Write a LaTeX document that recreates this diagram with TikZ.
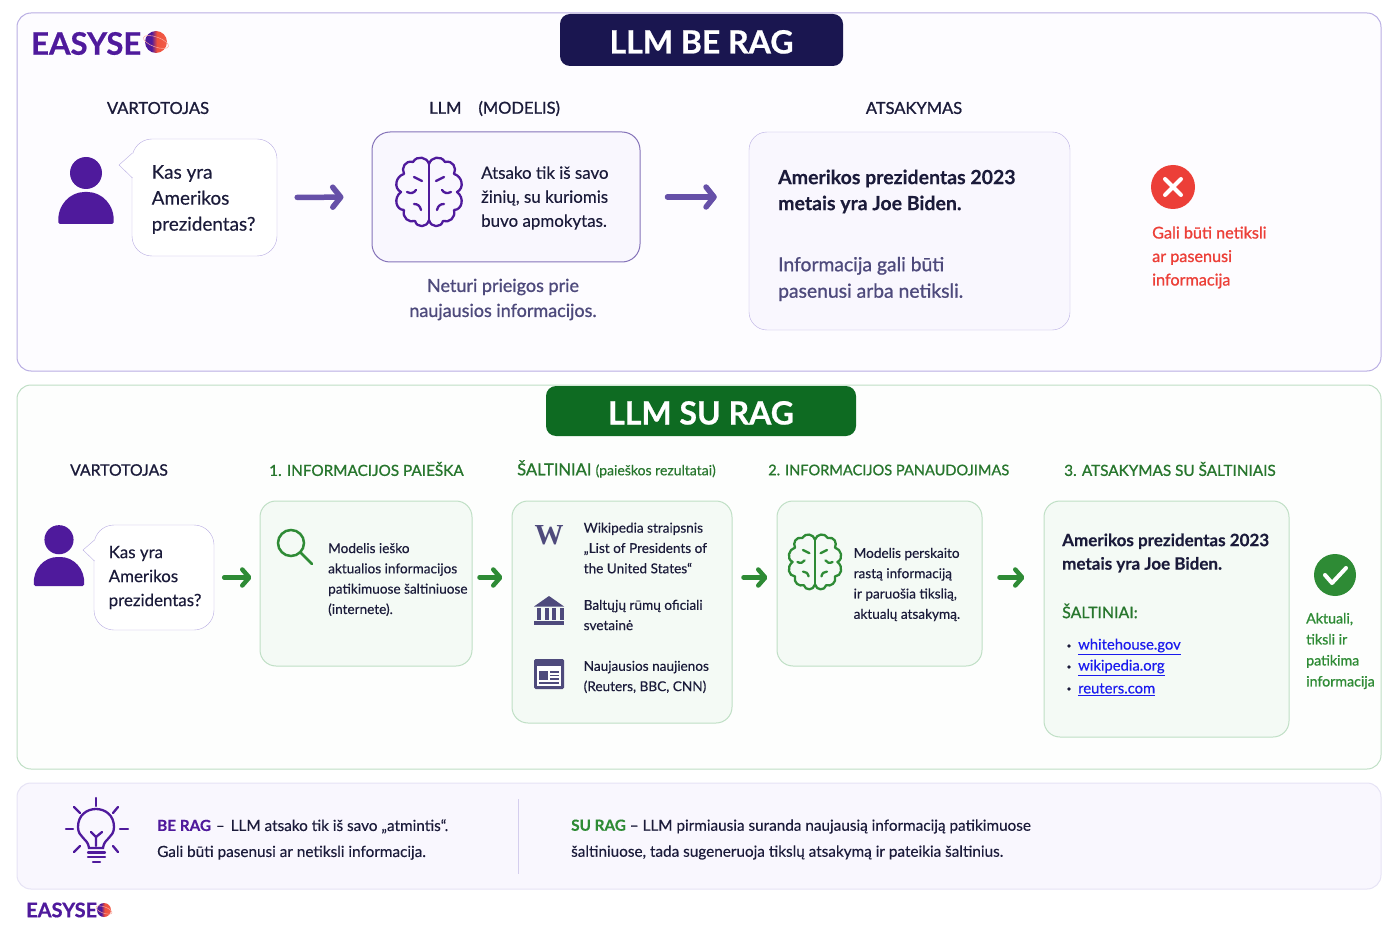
\documentclass[tikz,border=0pt]{standalone}
\usepackage{fontspec}
\setmainfont[UprightFeatures={FakeBold=0.3}, BoldFeatures={FakeBold=0.3}]{Lato}
\newfontfamily\medfont[FakeBold=1]{Lato}
\newfontfamily\blackfont[BoldFeatures={FakeBold=0.7}]{Lato}
\newfontfamily\wfont{Liberation Serif}
\usetikzlibrary{arrows.meta, positioning}
\definecolor{brandp}{HTML}{4F1A9C}
\definecolor{brandg}{HTML}{2E8B35}
\definecolor{edgep}{HTML}{B9AEE3}
\definecolor{edgeg}{HTML}{BFDFC5}
\definecolor{softp}{HTML}{F9F7FE}
\definecolor{softg}{HTML}{F4FAF5}
\definecolor{inkd}{HTML}{1B1B3A}
\definecolor{inkm}{HTML}{4E4A7C}
\definecolor{ballred}{HTML}{F0503C}
\definecolor{redt}{HTML}{EC3F38}
\definecolor{arrowp}{HTML}{6650A8}
\definecolor{linkb}{HTML}{1A1AEE}
\definecolor{navyb}{HTML}{1A1650}
\definecolor{greenb}{HTML}{0E6B22}
\pgfdeclarehorizontalshading{ballshade}{100bp}{color(0bp)=(brandp); color(40bp)=(brandp); color(52bp)=(ballred); color(100bp)=(ballred!85)}
\newcommand{\fs}[2]{\fontsize{#1}{#2}\selectfont}
% Brain outline, one half and its mirror
\newcommand{\brainhalf}{
    \draw[line cap=round, line join=round] (0,-28) .. controls (-2,-35) and (-12,-37) .. (-16,-30)
        .. controls (-24,-32) and (-28,-24) .. (-25,-18)
        .. controls (-33,-16) and (-36,-4) .. (-28,0)
        .. controls (-36,6) and (-33,18) .. (-25,18)
        .. controls (-27,26) and (-20,31) .. (-14,29)
        .. controls (-12,36) and (-2,36) .. (0,28);
    \draw[line cap=round] (-15,-15) -- (-7,-11);
    \draw[line cap=round] (-22,0) .. controls (-18,2) and (-15,1) .. (-13,-2);
    \draw[line cap=round] (-15,12) .. controls (-11,12) and (-9,14) .. (-8,18);
}
\newcommand{\brainicon}[4]{
    \begin{scope}[shift={(#1,#2)}, scale=#3, color=#4, line width=2.3pt]
        \brainhalf
        \begin{scope}[xscale=-1]
            \brainhalf
        \end{scope}
        \draw (0,-28) -- (0,28);
    \end{scope}
}
% User figure
\newcommand{\usericon}[3]{
    \begin{scope}[shift={(#1,#2)}, scale=#3]
        \fill[brandp] (0,-19) circle[radius=16];
        \fill[brandp, rounded corners=1.5pt] (-27.5,32) .. controls (-29,13) and (-16,0) .. (0,0)
            .. controls (16,0) and (29,13) .. (27.5,32) -- cycle;
    \end{scope}
}
% Logo ball
\newcommand{\logoball}[3]{
    \shade[shading=ballshade] (#1,#2) circle[radius=#3];
    \draw[ballred!50, line width=0.5pt, rotate around={-20:(#1,#2)}] (#1,#2) ellipse[x radius=#3*1.2, y radius=#3*0.45];
}
\tikzset{
    panelp/.style={draw=edgep, line width=1pt, fill=white!60!softp, rounded corners=14pt, inner sep=0pt},
    panelg/.style={draw=edgeg, line width=1pt, fill=white!80!softg, rounded corners=14pt, inner sep=0pt},
    boxp/.style={draw=edgep, fill=softp, rounded corners=18pt, inner sep=0pt},
    boxg/.style={draw=edgeg, line width=1pt, fill=softg, rounded corners=16pt, inner sep=0pt},
    bubble/.style={draw=edgep, fill=white, rounded corners=20pt, inner sep=0pt},
    badge/.style={rounded corners=10pt, inner sep=0pt, text=white, font=\fs{32}{36}\blackfont\bfseries},
    txt/.style={align=left, anchor=west, inner sep=0pt, text=inkd},
    head/.style={inner sep=0pt, text=inkd, font=\fs{16.5}{20}\medfont},
    headg/.style={anchor=west, inner sep=0pt, text=brandg!85!black, font=\fs{15.3}{20}\medfont},
    flowp/.style={draw=arrowp, line width=5.5pt, line cap=round, -{Straight Barb[round, length=8pt, width=20pt]}},
    flowg/.style={draw=brandg, line width=4.5pt, line cap=round, -{Straight Barb[round, length=7pt, width=16pt]}},
    logotxt/.style={anchor=west, inner sep=0pt, text=brandp},
}
\begin{document}
\begin{tikzpicture}[x=1pt, y=-1pt]
    \useasboundingbox (0,0) rectangle (1400,933);
    \fill[white] (0,0) rectangle (1400,933);

    % Panels
    \node[panelp, minimum width=1364pt, minimum height=358pt] (toppanel) at (699,192) {};
    \node[panelg, minimum width=1364pt, minimum height=384pt] (midpanel) at (699,577) {};
    \node[panelp, draw=edgep!35, fill=softp, minimum width=1364pt, minimum height=106pt] (lowpanel) at (699,836) {};

    % Title badges
    \node[badge, fill=navyb, minimum width=283pt, minimum height=52pt] (topbadge) at (701.5,40) {\raisebox{-13.5pt}[0pt][0pt]{LLM BE RAG}};
    \node[badge, fill=greenb, minimum width=310pt, minimum height=50pt] (midbadge) at (701,411) {\raisebox{-13.5pt}[0pt][0pt]{LLM SU RAG}};

    % Logos
    \node[logotxt, font=\fs{31}{34}\blackfont\bfseries] (toplogo) at (31,43.5) {EASYSE};
    \logoball{156}{42}{11}
    \node[logotxt, font=\fs{20}{24}\blackfont\bfseries] (lowlogo) at (26,910) {EASYSE};
    \logoball{104}{910}{7}

    % Top row labels
    \node[head] (topuser) at (158,108) {VARTOTOJAS};
    \node[head, anchor=west] (toplm) at (429,108.5) {LLM\hspace{17pt}(MODELIS)};
    \node[head] (topans) at (914,108) {ATSAKYMAS};

    % Top row user
    \usericon{86}{192}{1}
    \node[bubble, minimum width=145pt, minimum height=117pt] (topbub) at (204.5,197.5) {};
    \fill[white] (133,153) -- (119,165) -- (133,178) -- cycle;
    \draw[edgep, line join=round] (132.5,153) -- (119,165) -- (132.5,178);
    \node[txt, font=\fs{18.9}{26}] (topq) at (151.5,199.5) {Kas yra\\Amerikos\\prezidentas?};

    % Top row model
    \node[boxp, draw=arrowp!80, line width=1pt, minimum width=268pt, minimum height=130pt] (topmodel) at (506,197) {};
    \brainicon{429}{192}{1}{brandp}
    \node[txt, font=\fs{16.9}{24}] (topmtxt) at (481,198) {Atsako tik iš savo\\žinių, su kuriomis\\buvo apmokytas.};
    \node[align=center, inner sep=0pt, text=inkm, font=\fs{18}{25}\medfont] (topnote) at (503,299.5) {Neturi prieigos prie\\naujausios informacijos.};

    % Top row answer
    \node[boxp, minimum width=321pt, minimum height=198pt] (topanswer) at (909.5,231) {};
    \node[txt, font=\fs{19.5}{26}\bfseries] (topatxt) at (778,191.5) {Amerikos prezidentas 2023\\metais yra Joe Biden.};
    \node[txt, text=inkm, font=\fs{19.3}{26.5}\medfont] (topawarn) at (778,279) {Informacija gali būti\\pasenusi arba netiksli.};

    % Top row arrows
    \draw[flowp, shorten <=20pt, shorten >=28pt] (topbub.east) -- (topmodel.west);
    \draw[flowp, shorten <=27pt, shorten >=32pt] (topmodel.east) -- (topmodel.east -| topanswer.west);

    % Wrong mark
    \node[circle, fill=redt, minimum size=44pt, inner sep=0pt] (wrongdot) at (1173,187) {};
    \draw[white, line width=4pt, line cap=round] (1165,179) -- (1181,195);
    \draw[white, line width=4pt, line cap=round] (1181,179) -- (1165,195);
    \node[txt, text=redt, font=\fs{16.2}{23.5}\medfont] (wrongtxt) at (1152,257.5) {Gali būti netiksli\\ar pasenusi\\informacija};

    % Middle row labels
    \node[head, font=\fs{15.8}{20}\medfont] (miduser) at (119,470) {VARTOTOJAS};
    \node[headg] (midh1) at (269,469) {1. INFORMACIJOS PAIEŠKA};
    \node[headg, font=\fs{16.5}{20}\medfont] (midh2) at (517,469) {ŠALTINIAI \fs{14}{20}\normalfont\color{brandg!85!black}(paieškos rezultatai)};
    \node[headg, font=\fs{14.6}{20}\medfont] (midh3) at (768,470) {2. INFORMACIJOS PANAUDOJIMAS};
    \node[headg] (midh4) at (1064,469) {3. ATSAKYMAS SU ŠALTINIAIS};

    % Middle row user
    \usericon{59}{557}{0.91}
    \node[bubble, minimum width=120pt, minimum height=105pt] (midbub) at (154,577.5) {};
    \fill[white] (95,540) -- (83,550) -- (95,561) -- cycle;
    \draw[edgep, line join=round] (94.5,540) -- (83,550) -- (94.5,561);
    \node[txt, font=\fs{16.9}{24}] (midq) at (108.5,577.5) {Kas yra\\Amerikos\\prezidentas?};

    % Step 1
    \node[boxg, minimum width=212pt, minimum height=165pt] (srchbox) at (366,583.5) {};
    \draw[brandg, line width=2.5pt] (291,543) circle[radius=13];
    \draw[brandg, line width=2.5pt, line cap=round] (300.5,552.5) -- (312,564);
    \node[txt, font=\fs{13.6}{20.3}] (srchtxt) at (328,579.5) {Modelis ieško\\aktualios informacijos\\patikimuose šaltiniuose\\(internete).};

    % Sources
    \node[boxg, minimum width=220pt, minimum height=222pt] (srcbox) at (622,612) {};
    \node[inner sep=0pt, text=inkm, font=\fs{29}{32}\wfont\bfseries] (wikimark) at (549,535.5) {W};
    \node[txt, font=\fs{13.6}{20.3}] (wikitxt) at (583.5,548) {Wikipedia straipsnis\\„List of Presidents of\\the United States“};
    % Building icon
    \fill[inkm] (549,596) -- (564,606.5) -- (534,606.5) -- cycle;
    \foreach \i in {0,...,3} {
        \fill[inkm] (537.2+\i*7.5,608) rectangle (541.2+\i*7.5,620);
    }
    \fill[inkm] (534,620.5) rectangle (564,624.5);
    \node[txt, font=\fs{13.6}{20.3}] (housetxt) at (583.5,615) {Baltųjų rūmų oficiali\\svetainė};
    % News icon
    \fill[inkm, rounded corners=1.5pt] (534,659) rectangle (564,689);
    \fill[white] (537,666) rectangle (561,686);
    \fill[inkm] (539,671) rectangle (548,680);
    \foreach \i in {672,675.5,679,683} {
        \fill[inkm] (550,\i-0.6) rectangle (559,\i+0.6);
    }
    \fill[inkm] (539,682.4) rectangle (550,683.6);
    \node[txt, font=\fs{13.6}{20.3}] (newstxt) at (583.5,677) {Naujausios naujienos\\(Reuters, BBC, CNN)};

    % Step 2
    \node[boxg, minimum width=205pt, minimum height=165pt] (usebox) at (879.5,583.5) {};
    \brainicon{815}{562}{0.8}{brandg}
    \node[txt, font=\fs{13.6}{20.3}] (usetxt) at (853.5,584.5) {Modelis perskaito\\rastą informaciją\\ir paruošia tikslią,\\aktualų atsakymą.};

    % Step 3
    \node[boxg, minimum width=245pt, minimum height=236pt] (ansbox) at (1166.5,619) {};
    \node[txt, font=\fs{17}{23.5}\bfseries] (anstxt) at (1062,553) {Amerikos prezidentas 2023\\metais yra Joe Biden.};
    \node[headg, font=\fs{15.9}{20}\medfont] (anssrc) at (1062,611) {ŠALTINIAI:};
    \foreach \n/\t/\y in {a/whitehouse.gov/646, b/wikipedia.org/667, c/reuters.com/689} {
        \fill[inkd] (1069,\y) circle[radius=1.8];
        \node[txt, text=linkb, font=\fs{14.8}{18}] (link\n) at (1078,\y+0.5) {\underline{\t}};
    }

    % Middle row arrows
    \draw[flowg, shorten <=10pt, shorten >=8pt] (midbub.east) -- (midbub.east -| srchbox.west);
    \draw[flowg, shorten <=7pt, shorten >=9pt] (midbub.east -| srchbox.east) -- (midbub.east -| srcbox.west);
    \draw[flowg, shorten <=11pt, shorten >=9pt] (midbub.east -| srcbox.east) -- (midbub.east -| usebox.west);
    \draw[flowg, shorten <=17pt, shorten >=19pt] (midbub.east -| usebox.east) -- (midbub.east -| ansbox.west);

    % Right mark
    \node[circle, fill=brandg, minimum size=42pt, inner sep=0pt] (okdot) at (1335,575) {};
    \draw[white, line width=4pt, line cap=round, line join=round] (1325,575) -- (1332,583) -- (1346,568);
    \node[txt, text=brandg, font=\fs{14.2}{21}\medfont] (oktxt) at (1306,651) {Aktuali,\\tiksli ir\\patikima\\informacija};

    % Bulb
    \begin{scope}[brandp, line width=2.3pt, line cap=round]
        \draw (89,848) .. controls (88,838) and (78,838) .. (78,827)
            .. controls (78,803) and (114,803) .. (114,827)
            .. controls (114,838) and (104,838) .. (103,848) -- cycle;
        \draw (96,846) -- (96,837) -- (91,832);
        \draw (96,837) -- (102,832);
        \draw (88,852.5) -- (105,852.5);
        \draw (88,857) -- (105,857);
        \draw (93,862) -- (100,862);
        \draw (96,798) -- (96,806);
        \draw (66,829) -- (73,829);
        \draw (120,829) -- (128,829);
        \draw (74,807) -- (80,813);
        \draw (118,807) -- (113,813);
        \draw (74,852) -- (80,846);
        \draw (118,852) -- (113,846);
    \end{scope}

    % Summary
    \node[txt, font=\fs{15.3}{26}] (sumbe) at (157,839.5) {{\bfseries\color{brandp}BE RAG}\hspace{1pt} -- \hspace{2pt}LLM atsako tik iš savo „atmintis“.\\Gali būti pasenusi ar netiksli informacija.};
    \draw[edgep!60] (518,799) -- (518,874);
    \node[txt, font=\fs{15.3}{26}] (sumsu) at (571,839.5) {{\bfseries\color{brandg}SU RAG} -- LLM pirmiausia suranda naujausią informaciją patikimuose\\šaltiniuose, tada sugeneruoja tikslų atsakymą ir pateikia šaltinius.};
\end{tikzpicture}
\end{document}
